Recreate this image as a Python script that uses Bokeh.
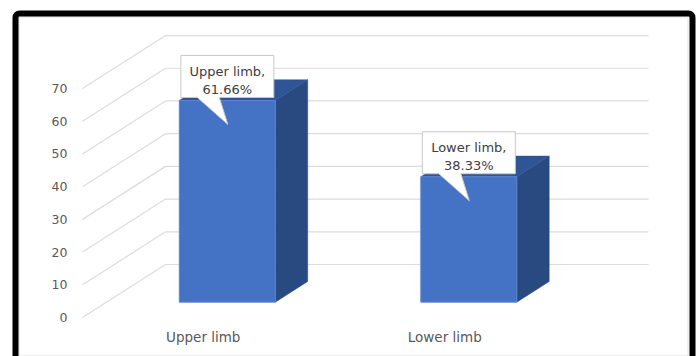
from bokeh.plotting import figure
from bokeh.models import Range1d, BoxAnnotation
from bokeh.core.properties import value
from bokeh.embed import file_html
from bokeh.resources import INLINE

# ---- data ----
categories = ["Upper limb", "Lower limb"]
percentages = [61.66, 38.33]
y_ticks = [0, 10, 20, 30, 40, 50, 60, 70]
y_tick_labels = ["0", "10", "20", "30", "40", "50", "60", "70"]

# ---- layout constants (pixels) ----
W, H = 700, 356
X0_PX, Y0_PX = 82.0, 317.0          # front-left corner of the floor
PX_PER_CAT = 241.5                  # pixels per category slot
PX_PER_VAL = 3.271                  # pixels per value unit
DEPTH_X = 83.0 / PX_PER_CAT         # oblique depth in x units
DEPTH_Y = 53.0 / PX_PER_VAL         # oblique depth in value units
F_FRONT, F_BACK = 0.29, 0.68        # bar front/back position inside depth
BAR_W = 96.0 / PX_PER_CAT

FONT = value("DejaVu Sans")
TXT = "#595959"

p = figure(width=W, height=H, output_backend="svg", toolbar_location=None,
           x_axis_location=None, y_axis_location=None, min_border=0,
           x_range=Range1d(-X0_PX / PX_PER_CAT, (W - X0_PX) / PX_PER_CAT),
           y_range=Range1d(-(H - Y0_PX) / PX_PER_VAL, Y0_PX / PX_PER_VAL),
           background_fill_color="white", border_fill_color="white")
p.outline_line_color = None
p.grid.grid_line_color = None

n = len(categories)

# ---- walls gridlines ----
gx, gy = [], []
for t in y_ticks:
    gx.append([0, DEPTH_X, n + DEPTH_X])
    gy.append([t, t + DEPTH_Y, t + DEPTH_Y])
p.multi_line(gx, gy, line_color="#dcdcdc", line_width=1.2)

# ---- tick labels ----
p.text(x=[-15.0 / PX_PER_CAT] * len(y_ticks), y=y_ticks, text=y_tick_labels,
       text_font=FONT, text_font_size=value("12.5px"), text_color=TXT,
       text_align="right", text_baseline="middle")

# ---- category labels ----
p.text(x=[i + 0.5 for i in range(n)], y=[-19.0 / PX_PER_VAL] * n, text=categories,
       text_font=FONT, text_font_size=value("13.5px"), text_color=TXT,
       text_align="center", text_baseline="middle")

# ---- 3D bars ----
fl, fr, fb, ft = [], [], [], []
side_xs, side_ys, top_xs, top_ys = [], [], [], []
dx = DEPTH_X * (F_BACK - F_FRONT)
dy = DEPTH_Y * (F_BACK - F_FRONT)
for i, v in enumerate(percentages):
    cx = i + 0.5 + DEPTH_X * F_FRONT
    y0 = DEPTH_Y * F_FRONT
    xl, xr = cx - BAR_W / 2, cx + BAR_W / 2
    fl.append(xl); fr.append(xr); fb.append(y0); ft.append(y0 + v)
    side_xs.append([xr, xr + dx, xr + dx, xr])
    side_ys.append([y0, y0 + dy, y0 + v + dy, y0 + v])
    top_xs.append([xl, xr, xr + dx, xl + dx])
    top_ys.append([y0 + v, y0 + v, y0 + v + dy, y0 + v + dy])

p.patches(side_xs, side_ys, fill_color="#294a80", line_color="#294a80", line_width=0.5)
p.patches(top_xs, top_ys, fill_color="#2f5597", line_color="#2f5597", line_width=0.5)
p.quad(left=fl, right=fr, bottom=fb, top=ft, fill_color="#4472c4",
       line_color="#5a84cf", line_width=1)

# ---- callouts ----
BOX_W = 93.0 / PX_PER_CAT
BOX_H = 42.0 / PX_PER_VAL
GAP = 3.0 / PX_PER_VAL
TAIL_L, TAIL_R = -30.0 / PX_PER_CAT, -8.0 / PX_PER_CAT
TAIL_TIP_X, TAIL_TIP_Y = 0.5 / PX_PER_CAT, 27.0 / PX_PER_VAL
cxs, cys = [], []
l1x, l1y, l1t, l2y, l2t = [], [], [], [], []
for i, (c, v) in enumerate(zip(categories, percentages)):
    cx = i + 0.5 + DEPTH_X * F_FRONT
    bb = DEPTH_Y * F_FRONT + v + GAP
    bt = bb + BOX_H
    bl, br = cx - BOX_W / 2, cx + BOX_W / 2
    cxs.append([bl, br, br, cx + TAIL_R, cx + TAIL_TIP_X, cx + TAIL_L, bl])
    cys.append([bt, bt, bb, bb, bb - TAIL_TIP_Y, bb, bb])
    l1x.append(cx); l1y.append(bb + 26.0 / PX_PER_VAL); l1t.append(c + ",")
    l2y.append(bb + 8.0 / PX_PER_VAL); l2t.append(f"{v:.2f}%")
p.patches(cxs, cys, fill_color="white", line_color="#c8c8c8", line_width=1)
p.text(x=l1x, y=l1y, text=l1t, text_font=FONT, text_font_size=value("13px"),
       text_color="#404040", text_align="center", text_baseline="alphabetic")
p.text(x=l1x, y=l2y, text=l2t, text_font=FONT, text_font_size=value("13px"),
       text_color="#404040", text_align="center", text_baseline="alphabetic")

# ---- frame decorations ----
p.add_layout(BoxAnnotation(left=18.5, right=687.5, top=16.5, bottom=355.5,
                           left_units="canvas", right_units="canvas",
                           top_units="canvas", bottom_units="canvas",
                           fill_alpha=0, line_color="#e0e0e0", line_alpha=1,
                           line_width=1))
p.add_layout(BoxAnnotation(left=15, right=692, top=13, bottom=380,
                           left_units="canvas", right_units="canvas",
                           top_units="canvas", bottom_units="canvas",
                           fill_alpha=0, line_color="black", line_alpha=1,
                           line_width=6, border_radius=4))

open("out.html", "w").write(file_html(p, INLINE))
